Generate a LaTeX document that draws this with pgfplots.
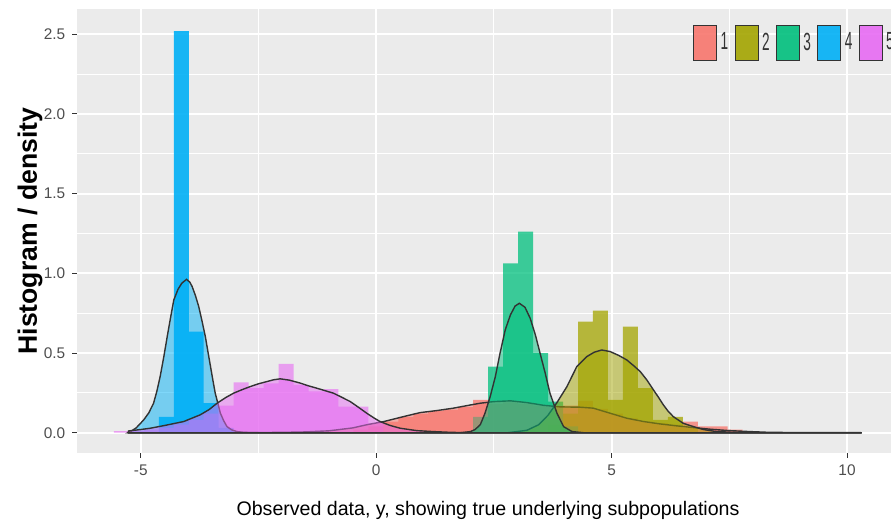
\documentclass[border=0pt]{standalone}
\usepackage{pgfplots}
\pgfplotsset{compat=1.18}
\usepackage{fontspec}
\setmainfont{Liberation Sans}
\definecolor{ggbg}{HTML}{EBEBEB}
\definecolor{gA}{HTML}{F8766D}
\definecolor{gB}{HTML}{A3A500}
\definecolor{gC}{HTML}{00BF7D}
\definecolor{gD}{HTML}{00B0F6}
\definecolor{gE}{HTML}{E76BF3}
\definecolor{gray30}{HTML}{4D4D4D}
\definecolor{gray20}{HTML}{333333}
\newcommand\legtxt[1]{\scalebox{0.55}[1]{\fontsize{12.4pt}{12.4pt}\selectfont #1}}
\newcommand\legkey[1]{\fill[fill=#1, fill opacity=0.9] (0pt,-8.75pt) rectangle (11.5pt,8.75pt); \draw[draw=gray20, fill=none, line width=0.5pt] (0pt,-8.75pt) rectangle (11.5pt,8.75pt);}
\begin{document}
\begin{tikzpicture}
\begin{axis}[
  scale only axis, width=410.8pt, height=221.8pt,
  xmin=-6.35, xmax=11.1, ymin=-0.127, ymax=2.656,
  axis background/.style={fill=ggbg},
  axis line style={draw=none},
  grid=both,
  major grid style={white, line width=1pt},
  minor grid style={white, line width=0.5pt},
  xtick={-5,0,5,10}, xticklabels={-5,0,5,10},
  ytick={0,0.5,1,1.5,2,2.5}, yticklabels={0.0,0.5,1.0,1.5,2.0,2.5},
  minor xtick={-2.5,2.5,7.5},
  minor ytick={0.25,0.75,1.25,1.75,2.25},
  tick pos=left,
  tick align=outside, major tick length=2.5pt, minor tick length=0pt,
  tick style={gray20, line width=0.5pt},
  xticklabel style={font=\fontsize{7.7pt}{9pt}\selectfont, text=gray30},
  yticklabel style={font=\fontsize{7.7pt}{9pt}\selectfont, text=gray30},
  xlabel={Observed data, y, showing true underlying subpopulations},
  xlabel style={font=\fontsize{9.8pt}{11pt}\selectfont, at={(axis description cs:0.5,-0.1285)}, anchor=center},
  ylabel={Histogram / density},
  ylabel style={font=\fontsize{13.3pt}{14pt}\selectfont\bfseries, at={(axis description cs:-0.0576,0.5)}, anchor=center},
  legend columns=5,
  legend style={at={(axis description cs:0.7498,0.965)}, anchor=north west, draw=none, fill=none,
    inner sep=0pt, outer sep=0pt, row sep=0pt, text=gray20,
    nodes={inner sep=0pt},
    /tikz/every odd column/.append style={column sep=1.7pt},
    /tikz/every even column/.append style={column sep=3.2pt}},
  legend cell align=left,
]
% ---------- histograms (density scale), bin width 0.318 ----------
\addplot[ybar, bar width=0.318, bar shift=0pt, draw=none, fill=gA, fill opacity=0.75,
  legend image code/.code={\legkey{gA}}] table {
x y
-0.325 0.02
-0.007 0.04
0.311 0.07
0.629 0.10
0.947 0.12
1.265 0.135
1.583 0.145
1.901 0.16
2.219 0.206
2.537 0.18
2.855 0.19
3.173 0.18
3.491 0.17
3.809 0.16
4.127 0.17
4.445 0.20
4.763 0.15
5.081 0.12
5.399 0.09
5.717 0.07
6.035 0.06
6.353 0.05
6.671 0.07
6.989 0.04
7.307 0.04
7.625 0.02
7.943 0.01
};
\addlegendentry{\legtxt{1}}
\addplot[ybar, bar width=0.318, bar shift=0pt, draw=none, fill=gB, fill opacity=0.75,
  legend image code/.code={\legkey{gB}}] table {
x y
3.809 0.05
4.127 0.12
4.445 0.697
4.763 0.766
5.081 0.206
5.399 0.666
5.717 0.279
6.035 0.08
6.353 0.10
6.671 0.03
};
\addlegendentry{\legtxt{2}}
\addplot[ybar, bar width=0.318, bar shift=0pt, draw=none, fill=gC, fill opacity=0.75,
  legend image code/.code={\legkey{gC}}] table {
x y
2.219 0.10
2.537 0.415
2.855 1.063
3.173 1.262
3.491 0.499
3.809 0.195
4.127 0.04
};
\addlegendentry{\legtxt{3}}
\addplot[ybar, bar width=0.318, bar shift=0pt, draw=none, fill=gD, fill opacity=0.9,
  legend image code/.code={\legkey{gD}}] table {
x y
-4.459 0.10
-4.141 2.52
-3.823 0.634
-3.505 0.185
-3.187 0.03
};
\addlegendentry{\legtxt{4}}
\addplot[ybar, bar width=0.318, bar shift=0pt, draw=none, fill=gE, fill opacity=0.6,
  legend image code/.code={\legkey{gE}}] table {
x y
-5.413 0.01
-5.095 0.01
-4.777 0.02
-4.459 0.03
-4.141 0.05
-3.823 0.08
-3.505 0.12
-3.187 0.17
-2.869 0.315
-2.551 0.28
-2.233 0.31
-1.915 0.432
-1.597 0.30
-1.279 0.26
-0.961 0.273
-0.643 0.164
-0.325 0.164
-0.007 0.06
};
\addlegendentry{\legtxt{5}}
% ---------- fitted densities ----------
\addplot[forget plot, fill=gA, fill opacity=0.5, draw=gray20, line width=0.7pt] table {
x y
-5.27 0
-3.0 0
-2.0 0.002
-1.5 0.005
-1.0 0.012
-0.5 0.03
-0.2 0.05
0.16 0.07
0.58 0.101
0.93 0.126
1.29 0.139
1.64 0.154
2.00 0.174
2.21 0.185
2.49 0.195
2.85 0.200
3.20 0.189
3.55 0.172
3.91 0.162
4.33 0.160
4.61 0.154
4.97 0.122
5.32 0.091
5.68 0.070
6.03 0.055
6.38 0.043
6.74 0.032
7.09 0.022
7.5 0.013
7.94 0.007
8.37 0.002
9.0 0.001
10.31 0
} \closedcycle;
\addplot[forget plot, fill=gB, fill opacity=0.5, draw=gray20, line width=0.7pt] table {
x y
-5.27 0
2.8 0
3.2 0.015
3.45 0.05
3.65 0.11
3.83 0.185
4.05 0.289
4.26 0.415
4.47 0.477
4.63 0.505
4.79 0.519
4.97 0.509
5.15 0.485
5.32 0.457
5.47 0.42
5.61 0.383
5.75 0.33
5.89 0.268
6.00 0.22
6.10 0.174
6.20 0.135
6.31 0.101
6.52 0.059
6.74 0.038
6.95 0.02
7.2 0.008
7.6 0.002
8.0 0
10.31 0
} \closedcycle;
\addplot[forget plot, fill=gC, fill opacity=0.5, draw=gray20, line width=0.7pt] table {
x y
-5.27 0
1.8 0
2.0 0.007
2.10 0.02
2.21 0.05
2.31 0.122
2.42 0.226
2.53 0.352
2.63 0.499
2.74 0.645
2.85 0.739
2.95 0.795
3.04 0.812
3.16 0.787
3.27 0.718
3.38 0.614
3.48 0.499
3.59 0.373
3.69 0.248
3.84 0.122
3.98 0.038
4.16 0.007
4.4 0
10.31 0
} \closedcycle;
\addplot[forget plot, fill=gD, fill opacity=0.5, draw=gray20, line width=0.7pt] table {
x y
-5.27 0
-5.22 0.007
-5.10 0.03
-4.94 0.08
-4.83 0.125
-4.73 0.185
-4.66 0.26
-4.59 0.352
-4.51 0.48
-4.44 0.603
-4.37 0.72
-4.30 0.833
-4.21 0.90
-4.13 0.938
-4.03 0.962
-3.96 0.945
-3.91 0.917
-3.84 0.86
-3.77 0.791
-3.70 0.70
-3.63 0.603
-3.57 0.50
-3.52 0.415
-3.47 0.33
-3.42 0.248
-3.36 0.18
-3.31 0.122
-3.24 0.075
-3.17 0.038
-3.07 0.018
-2.96 0.007
-2.80 0.002
-2.50 0
10.31 0
} \closedcycle;
\addplot[forget plot, fill=gE, fill opacity=0.5, draw=gray20, line width=0.7pt] table {
x y
-5.27 0
-5.26 0.011
-5.00 0.02
-4.80 0.028
-4.50 0.045
-4.09 0.070
-3.74 0.112
-3.55 0.145
-3.38 0.185
-3.20 0.22
-3.03 0.248
-2.85 0.27
-2.68 0.289
-2.50 0.307
-2.32 0.321
-2.18 0.332
-2.04 0.338
-1.85 0.33
-1.61 0.311
-1.45 0.295
-1.26 0.279
-1.10 0.265
-0.91 0.248
-0.75 0.225
-0.55 0.195
-0.38 0.16
-0.20 0.122
-0.05 0.093
0.08 0.070
0.30 0.045
0.51 0.028
0.86 0.013
1.21 0.007
1.60 0.002
2.00 0
10.31 0
} \closedcycle;
\end{axis}
\pgfresetboundingbox
\path[use as bounding box] ([xshift=-38.65pt,yshift=-35.5pt]current axis.south west) rectangle ([xshift=-3.9pt,yshift=4.7pt]current axis.north east);
\end{tikzpicture}
\end{document}
